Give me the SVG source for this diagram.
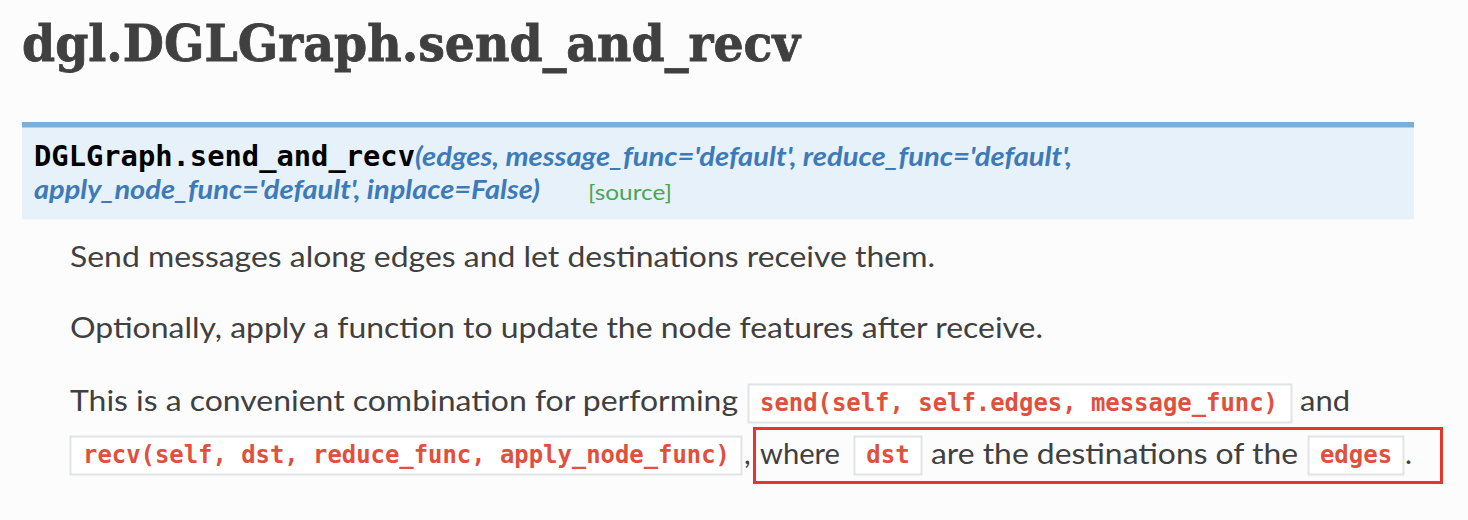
<svg xmlns="http://www.w3.org/2000/svg" width="1468" height="520" viewBox="0 0 1468 520">
<style>
.title{font-family:"DejaVu Serif","Liberation Serif",serif;font-weight:bold;font-size:50px;fill:#404040;stroke:#404040;stroke-width:0.8px}
.signame{font-family:"DejaVu Sans Mono","Liberation Mono",monospace;font-weight:bold;font-size:28px;fill:#000}
.param{font-family:Lato,"Liberation Sans",sans-serif;font-style:italic;font-weight:bold;font-size:27px;fill:#3d7ab8}
.src{font-family:Lato,"Liberation Sans",sans-serif;font-size:22px;fill:#48a555}
.body{font-family:Lato,"Liberation Sans",sans-serif;font-size:29.5px;fill:#404040}
.code{font-family:"DejaVu Sans Mono","Liberation Mono",monospace;font-weight:bold;font-size:24px;fill:#e0503d}
.cbox{fill:#ffffff;stroke:#e1e4e5;stroke-width:2}
</style>
<rect x="0" y="0" width="1468" height="520" fill="#fcfcfc"/>
<g id="title">
<text class="title" x="22" y="61" textLength="778" lengthAdjust="spacingAndGlyphs">dgl.DGLGraph.send_and_recv</text>
</g>
<g id="signature">
<rect x="22" y="122" width="1392" height="97.5" fill="#e7f1fa"/>
<rect x="22" y="122" width="1392" height="5.5" fill="#7aafd8"/>
<text class="signame" x="34" y="166" textLength="381" lengthAdjust="spacingAndGlyphs">DGLGraph.send_and_recv</text>
<text class="param" x="415" y="166" textLength="657" lengthAdjust="spacingAndGlyphs">(edges, message_func='default', reduce_func='default',</text>
<text class="param" x="34" y="199" textLength="506" lengthAdjust="spacingAndGlyphs">apply_node_func='default', inplace=False)</text>
<text class="src" x="588" y="200" textLength="84" lengthAdjust="spacingAndGlyphs">[source]</text>
</g>
<g id="para1">
<text class="body" x="70" y="267" textLength="865" lengthAdjust="spacingAndGlyphs">Send messages along edges and let destinations receive them.</text>
</g>
<g id="para2">
<text class="body" x="70" y="338" textLength="973" lengthAdjust="spacingAndGlyphs">Optionally, apply a function to update the node features after receive.</text>
</g>
<g id="para3">
<text class="body" x="70" y="411" textLength="668" lengthAdjust="spacingAndGlyphs">This is a convenient combination for performing</text>
<rect class="cbox" x="748.5" y="384.5" width="543" height="38"/>
<text class="code" x="760" y="411" textLength="518" lengthAdjust="spacingAndGlyphs">send(self, self.edges, message_func)</text>
<text class="body" x="1300" y="411" textLength="50" lengthAdjust="spacingAndGlyphs">and</text>
<rect class="cbox" x="70.5" y="436.5" width="671" height="38"/>
<text class="code" x="83" y="463" textLength="647" lengthAdjust="spacingAndGlyphs">recv(self, dst, reduce_func, apply_node_func)</text>
<text class="body" x="744" y="464">,</text>
<text class="body" x="760" y="464" textLength="80" lengthAdjust="spacingAndGlyphs">where</text>
<rect class="cbox" x="854.5" y="436.5" width="67" height="38"/>
<text class="code" x="888" y="463" text-anchor="middle">dst</text>
<text class="body" x="931" y="464" textLength="367" lengthAdjust="spacingAndGlyphs">are the destinations of the</text>
<rect class="cbox" x="1308.5" y="436.5" width="95" height="38"/>
<text class="code" x="1356" y="463" text-anchor="middle">edges</text>
<text class="body" x="1405" y="464">.</text>
</g>
<g id="highlight">
<rect x="754.5" y="428.5" width="687" height="54" fill="none" stroke="#e6352a" stroke-width="3"/>
</g>
</svg>
